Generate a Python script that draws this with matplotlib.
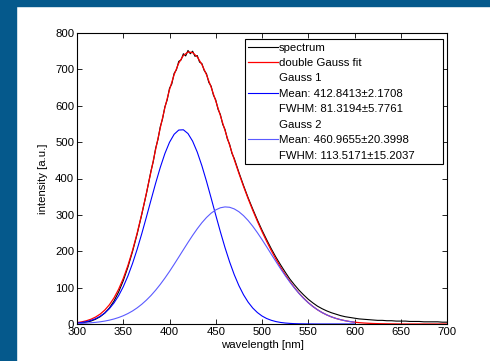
import numpy as np
import matplotlib
matplotlib.use("Agg")
import matplotlib.pyplot as plt
from matplotlib.lines import Line2D

plt.rcParams['font.family'] = ['Liberation Sans', 'DejaVu Sans']

spec_wl = np.concatenate([np.arange(300, 380, 5), np.arange(380, 472.5, 2.5), np.arange(475, 705, 5)])
spectrum = [2, 3, 5, 8, 13, 20, 30, 44, 63, 88, 119, 156, 199, 247, 301, 358,
            421, 447, 483, 507, 542, 564, 597, 616, 648, 660, 689, 699, 722, 726, 743, 737,
            752, 743, 750, 736, 738, 720, 716, 697, 688, 664, 654, 629, 616, 590, 576, 549,
            535, 509, 494, 469, 455,
            417, 381, 347, 316, 286, 258, 232, 207, 184, 163, 143, 124, 108, 93, 80, 68,
            58, 49, 42, 36, 31, 27, 23, 20, 18, 16, 14, 13, 12, 11, 10, 10, 9, 9, 8, 8,
            8, 7, 7, 7, 6, 6, 6, 6, 5, 5]

# fit curves, every 5 nm
fit_wl = np.arange(300, 705, 5)
fit = [3.8, 5.8, 8.8, 13.0, 19.0, 27.1, 38.2, 52.8, 71.7, 95.6, 125.0, 160.5, 202.0, 249.5,
       302.3, 359.4, 419.1, 479.8, 539.0, 594.6, 644.0, 685.5, 717.2, 738.1, 747.7, 746.2,
       734.4, 713.5, 685.1, 651.0, 613.1, 573.0, 532.0, 491.5, 452.0, 414.3, 378.4, 344.6,
       312.6, 282.6, 254.1, 227.4, 202.2, 178.6, 156.5, 136.0, 117.3, 100.1, 84.6, 70.9,
       58.7, 48.2, 39.1, 31.4, 25.0, 19.6, 15.3, 11.8, 9.0, 6.7, 5.0, 3.7, 2.7, 2.0, 1.4,
       1.0, 0.7, 0.5, 0.3, 0.2, 0, 0, 0, 0, 0, 0, 0, 0, 0, 0, 0]

gauss_wl = np.arange(300, 605, 5)
gauss1 = [2.6, 4.1, 6.4, 9.7, 14.5, 21.1, 30.2, 42.2, 57.9, 77.8, 102.3, 131.8, 166.2, 205.2,
          248.1, 293.8, 340.7, 386.9, 430.2, 468.5, 499.5, 521.5, 533.2, 533.9, 523.5, 502.6,
          472.6, 435.1, 392.3, 346.3, 299.4, 253.5, 210.1, 170.6, 135.6, 105.6, 80.5, 60.1,
          43.9, 31.5, 22.0, 15.1, 10.2, 6.7, 4.3, 2.7, 1.7, 1.0, 0.6, 0.4, 0.2, 0.1,
          0, 0, 0, 0, 0, 0, 0, 0, 0]
gauss2 = [1.2, 1.7, 2.4, 3.3, 4.5, 6.0, 8.0, 10.6, 13.8, 17.8, 22.7, 28.7, 35.8, 44.3, 54.2,
          65.6, 78.4, 92.9, 108.8, 126.1, 144.5, 164.0, 184.0, 204.2, 224.2, 243.6, 261.8,
          278.4, 292.8, 304.7, 313.7, 319.5, 321.9, 320.9, 316.4, 308.7, 297.9, 284.5, 268.7,
          251.1, 232.1, 212.3, 192.0, 171.9, 152.2, 133.3, 115.6, 99.1, 84.0, 70.5, 58.5,
          48.1, 39.1, 31.4, 25.0, 19.6, 15.3, 11.8, 9.0, 6.7, 5.0]

legend_labels = ['spectrum', 'double Gauss fit', 'Gauss 1', 'Mean: 412.8413\u00b12.1708',
                 'FWHM: 81.3194\u00b15.7761', 'Gauss 2', 'Mean: 460.9655\u00b120.3998',
                 'FWHM: 113.5171\u00b115.2037']

slide_blue = '#05598c'
fs = 8.2

fig = plt.figure(figsize=(4.9, 3.61), dpi=100)
fig.patch.set_facecolor('white')
# slide background strips
fig.patches.append(plt.Rectangle((0, 0), 16 / 490, 1, transform=fig.transFigure,
                                 color=slide_blue, zorder=0))
fig.patches.append(plt.Rectangle((0, 1 - 6 / 361), 1, 6 / 361, transform=fig.transFigure,
                                 color=slide_blue, zorder=0))

ax = fig.add_axes([77 / 490, 37 / 361, 370 / 490, 291 / 361])
h_spec, = ax.plot(spec_wl, spectrum, color='black', lw=0.8)
h_fit, = ax.plot(fit_wl, fit, color='red', lw=0.9)
h_g1, = ax.plot(gauss_wl, gauss1, color='#0000ff', lw=0.8)
h_g2, = ax.plot(gauss_wl, gauss2, color='#5a5aff', lw=0.8)

ax.set_xlim(300, 700)
ax.set_ylim(0, 800)
ax.set_xticks(np.arange(300, 750, 50))
ax.set_yticks(np.arange(0, 900, 100))
ax.tick_params(direction='in', length=3.5, width=0.6, labelsize=fs, top=True, right=True, pad=2)
for s in ax.spines.values():
    s.set_linewidth(0.8)
ax.set_xlabel('wavelength [nm]', fontsize=fs, labelpad=2)
ax.set_ylabel('intensity [a.u.]', fontsize=fs, labelpad=5)

blank = Line2D([], [], linestyle='none')
handles = [h_spec, h_fit, blank, h_g1, blank, blank, h_g2, blank]
leg = ax.legend(handles, legend_labels, loc='upper left', bbox_to_anchor=(0.454, 0.0, 0.535, 0.979),
                mode='expand', fontsize=fs, fancybox=False, framealpha=1, edgecolor='black',
                handlelength=2.6, handletextpad=0.1, labelspacing=0.48, borderpad=0.3,
                borderaxespad=0)
leg.get_frame().set_linewidth(0.8)

fig.savefig('out.png', dpi=100, facecolor=fig.get_facecolor())
